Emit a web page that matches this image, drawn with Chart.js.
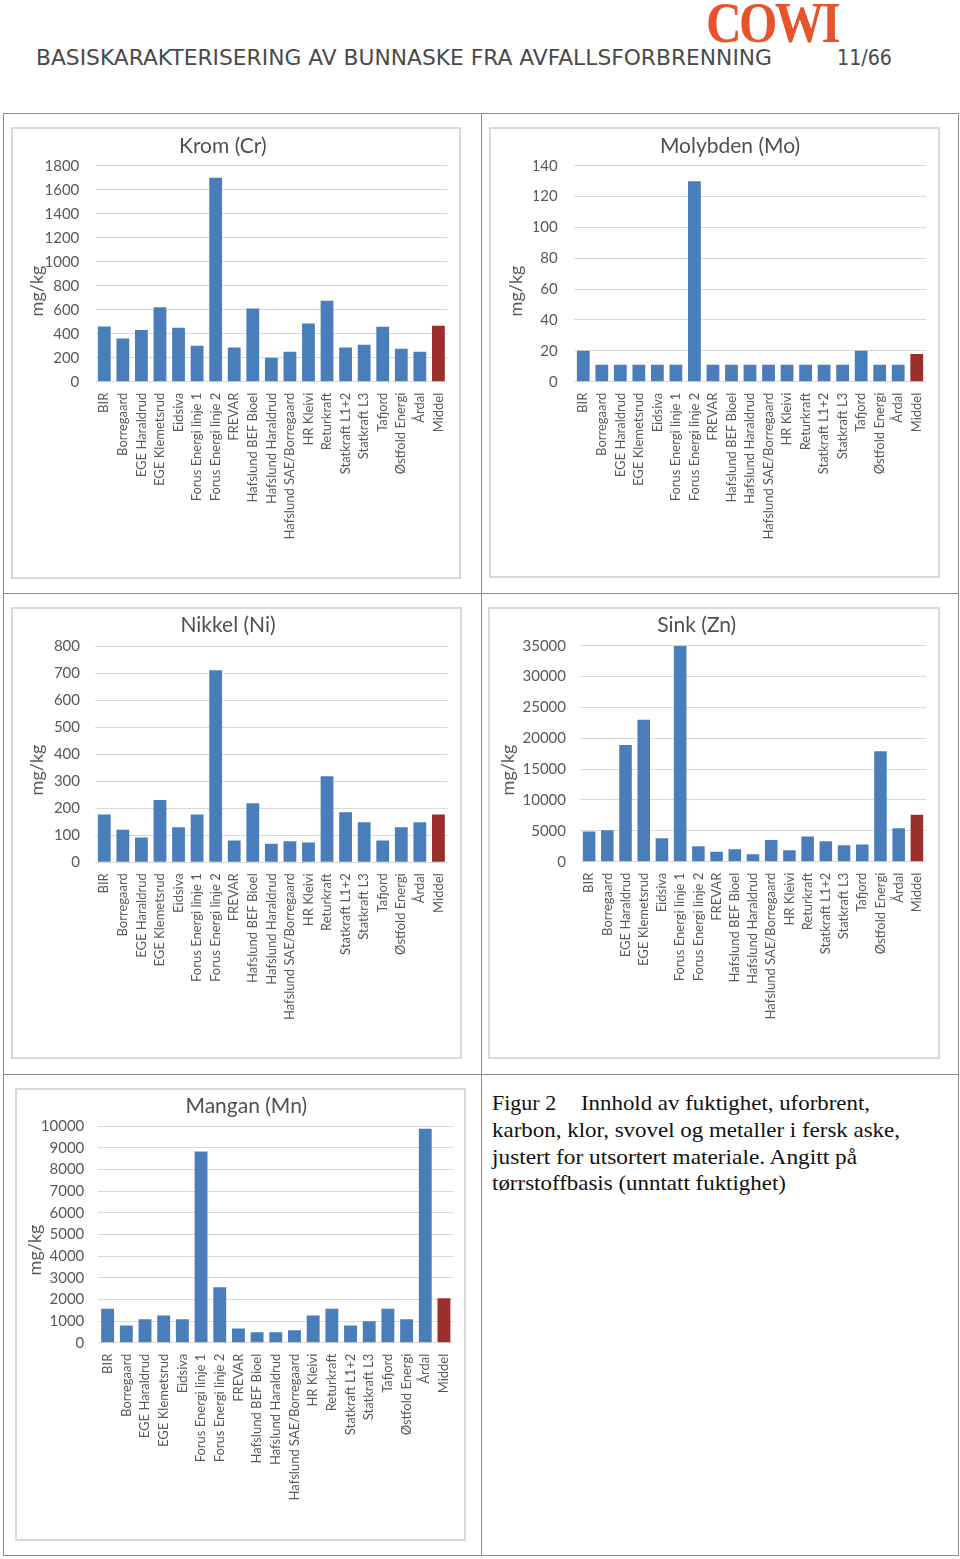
<!DOCTYPE html>
<html><head><meta charset="utf-8">
<script src="https://cdn.jsdelivr.net/npm/chart.js@4.4.1/dist/chart.umd.min.js"></script>
<style>
html,body{margin:0;padding:0;background:#fff;}
#page{position:relative;width:960px;height:1559px;overflow:hidden;background:#fff;}
.abs{position:absolute;white-space:nowrap;line-height:1;transform-origin:0 0;}
.hl{position:absolute;height:1px;background:#8c8c8c;}
.vl{position:absolute;width:1px;background:#8c8c8c;}
.frame{position:absolute;border:2px solid #d9d9d9;box-sizing:border-box;}
canvas{position:absolute;}
.cap{font-family:'Liberation Serif','Times New Roman',serif;font-size:22px;color:#111;}
</style></head><body><div id="page">
<div id="logo" class="abs" style="left:706px;top:-5px;font-family:'Liberation Serif',serif;font-weight:bold;font-size:56px;color:#e6532c;letter-spacing:-3px;">COWI</div>
<div id="hdr" class="abs" style="left:36px;top:48px;font-family:'DejaVu Sans',sans-serif;font-size:21px;color:#4a4a4a;">BASISKARAKTERISERING AV BUNNASKE FRA AVFALLSFORBRENNING</div>
<div id="pgn" class="abs" style="left:837px;top:48px;font-family:'DejaVu Sans',sans-serif;font-size:21px;color:#4a4a4a;">11/66</div>

<div class="hl" style="left:3px;top:113px;width:956px"></div>
<div class="hl" style="left:3px;top:593px;width:956px"></div>
<div class="hl" style="left:3px;top:1074px;width:956px"></div>
<div class="hl" style="left:3px;top:1555px;width:956px"></div>
<div class="vl" style="left:3px;top:113px;height:1443px"></div>
<div class="vl" style="left:481px;top:113px;height:1443px"></div>
<div class="vl" style="left:958px;top:113px;height:1443px"></div>

<div id="cap1a" class="abs cap" style="left:492px;top:1092px;">Figur 2</div>
<div id="cap1b" class="abs cap" style="left:581px;top:1092px;">Innhold av fuktighet, uforbrent,</div>
<div id="cap2" class="abs cap" style="left:492px;top:1119px;">karbon, klor, svovel og metaller i fersk aske,</div>
<div id="cap3" class="abs cap" style="left:492px;top:1146px;">justert for utsortert materiale. Angitt på</div>
<div id="cap4" class="abs cap" style="left:492px;top:1172px;">tørrstoffbasis (unntatt fuktighet)</div>
</div>
<script>
// ---------- data ----------
const categories = ['BIR','Borregaard','EGE Haraldrud','EGE Klemetsrud','Eidsiva','Forus Energi linje 1','Forus Energi linje 2','FREVAR','Hafslund BEF Bioel','Hafslund Haraldrud','Hafslund SAE/Borregaard','HR Kleivi','Returkraft','Statkraft L1+2','Statkraft L3','Tafjord','Østfold Energi','Årdal','Middel'];

const kromValues     = [460,360,430,620,450,300,1700,285,610,200,250,485,675,285,308,458,275,250,467];
const molybdenValues = [20,11,11,11,11,11,130,11,11,11,11,11,11,11,11,20,11,11,18];
const nikkelValues   = [177,120,92,230,130,177,710,81,218,69,78,73,318,185,148,81,130,148,177];
const sinkValues     = [4900,5100,18900,23000,3780,35000,2500,1620,2000,1190,3500,1840,4100,3300,2650,2800,17900,5400,7600];
const manganValues   = [1570,800,1080,1260,1080,8830,2560,660,480,480,570,1260,1570,800,990,1570,1080,9890,2050];

const kromTicks     = [0,200,400,600,800,1000,1200,1400,1600,1800];
const molybdenTicks = [0,20,40,60,80,100,120,140];
const nikkelTicks   = [0,100,200,300,400,500,600,700,800];
const sinkTicks     = [0,5000,10000,15000,20000,25000,30000,35000];
const manganTicks   = [0,1000,2000,3000,4000,5000,6000,7000,8000,9000,10000];

const titles = ['Krom (Cr)','Molybden (Mo)','Nikkel (Ni)','Sink (Zn)','Mangan (Mn)'];
const unitLabel = 'mg/kg';

// ---------- layout (page pixels) ----------
const layouts = [
  {frame:[11,127,461,579],  plot:[95,165.7,447.7,381.7],  title:[222.8,146],  ytitle:[36.7,291],  tickRight:79.3},
  {frame:[489,127,940,578], plot:[574,165.7,926,381.7],   title:[730,146],    ytitle:[516,291],   tickRight:557.7},
  {frame:[11,607,462,1059], plot:[95,646,447.7,862.3],    title:[228,625.7],  ytitle:[37,770],    tickRight:80},
  {frame:[488,607,940,1059],plot:[580,645.7,926,861.7],   title:[696.7,625.7],ytitle:[508,770],   tickRight:566},
  {frame:[15,1088,466,1541],plot:[98.3,1126.3,453.3,1342.7],title:[246.3,1106.7],ytitle:[35,1250],tickRight:84.3}
];
const seriesList = [kromValues, molybdenValues, nikkelValues, sinkValues, manganValues];
const tickList = [kromTicks, molybdenTicks, nikkelTicks, sinkTicks, manganTicks];

const BLUE = '#4a7ebb', RED = '#9b2f2c', TXT = '#595959';
const FONT = "Lato, 'Open Sans', sans-serif";
const TITLE_SIZE = 21;

const yTitlePlugin = {
  id: 'yTitleAbs',
  afterDraw(chart, args, opts) {
    const ctx = chart.ctx;
    ctx.save();
    ctx.translate(opts.x, opts.y);
    ctx.rotate(-Math.PI / 2);
    ctx.font = "18px " + FONT;
    ctx.fillStyle = TXT;
    ctx.textAlign = 'center';
    ctx.textBaseline = 'middle';
    ctx.fillText(opts.text, 0, 0);
    ctx.restore();
  }
};

const page = document.getElementById('page');

function makeChart(i) {
  const L = layouts[i];
  const [fx1, fy1, fx2, fy2] = L.frame;
  const [pLeft, pTop, pRight, pBottom] = L.plot;
  const fr = document.createElement('div');
  fr.className = 'frame';
  fr.style.left = fx1 + 'px'; fr.style.top = fy1 + 'px';
  fr.style.width = (fx2 - fx1) + 'px'; fr.style.height = (fy2 - fy1) + 'px';
  page.appendChild(fr);

  const titleBoxLeft = 2 * L.title[0] - pRight;
  const cl = Math.round(Math.min(fx1 + 2, titleBoxLeft));
  const cr = fx2 - 2;
  const ct = fy1 + 2, cb = fy2 - 2;
  const W = Math.round(cr - cl), H = Math.round(cb - ct);
  const pl = titleBoxLeft - cl;
  const pr = (cl + W) - pRight;
  const yW = pLeft - titleBoxLeft;
  const xH = (ct + H) - pBottom;
  const lh = TITLE_SIZE * 1.2;
  const tPadTop = L.title[1] - ct - lh / 2;
  const tPadBottom = (pTop - ct) - lh - tPadTop;

  const cv = document.createElement('canvas');
  cv.width = W; cv.height = H;
  cv.style.left = cl + 'px'; cv.style.top = ct + 'px';
  cv.style.width = W + 'px'; cv.style.height = H + 'px';
  page.appendChild(cv);

  const ticks = tickList[i];
  new Chart(cv.getContext('2d'), {
    type: 'bar',
    data: {
      labels: categories,
      datasets: [{
        data: seriesList[i],
        backgroundColor: categories.map(c => c === 'Middel' ? RED : BLUE),
        borderWidth: 0,
        barPercentage: 0.69,
        categoryPercentage: 1.0
      }]
    },
    options: {
      responsive: false,
      maintainAspectRatio: false,
      animation: false,
      devicePixelRatio: 1,
      layout: { padding: { left: pl, right: pr, top: 0, bottom: 0 } },
      plugins: {
        legend: { display: false },
        tooltip: { enabled: false },
        title: {
          display: true, text: titles[i], color: '#505050',
          font: { family: FONT, size: TITLE_SIZE, lineHeight: 1.2, weight: 'normal' },
          padding: { top: tPadTop, bottom: tPadBottom }
        },
        yTitleAbs: { text: unitLabel, x: L.ytitle[0] - cl, y: L.ytitle[1] - ct }
      },
      scales: {
        x: {
          type: 'category',
          offset: true,
          grid: { display: false },
          border: { display: false },
          ticks: { autoSkip: false, maxRotation: 90, minRotation: 90, padding: 3, color: TXT,
                   font: { family: FONT, size: 13 } },
          afterFit: s => { s.height = xH; }
        },
        y: {
          min: 0, max: ticks[ticks.length - 1],
          afterBuildTicks: s => { s.ticks = ticks.map(v => ({ value: v })); },
          grid: { color: '#d9d9d9', lineWidth: 1, drawTicks: false },
          border: { display: false },
          ticks: { padding: pLeft - L.tickRight, color: TXT, font: { family: FONT, size: 15 },
                   callback: v => String(v) },
          afterFit: s => { s.width = yW; }
        }
      }
    },
    plugins: [yTitlePlugin]
  });
}

for (let i = 0; i < layouts.length; i++) makeChart(i);

function fitWidth(id, target) {
  const el = document.getElementById(id);
  const w = el.getBoundingClientRect().width;
  if (w > 0) el.style.transform = 'scaleX(' + (target / w) + ')';
}
fitWidth('logo', 132);
fitWidth('hdr', 736);
fitWidth('pgn', 55);
fitWidth('cap1b', 289);
fitWidth('cap2', 408);
fitWidth('cap3', 365);
fitWidth('cap4', 294);
</script>
</body></html>
